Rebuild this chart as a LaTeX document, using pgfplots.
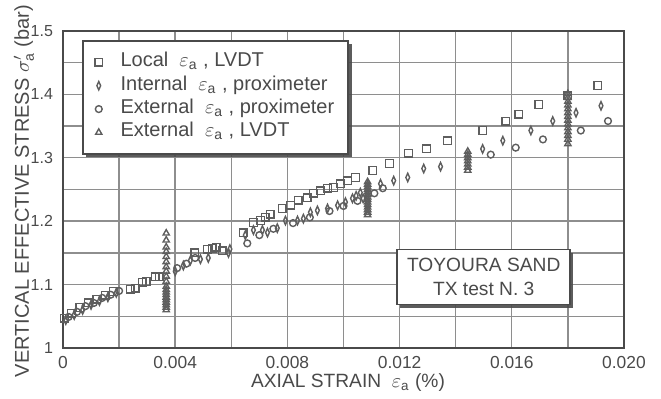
\documentclass[border=0pt]{standalone}
\usepackage{pgfplots}
\pgfplotsset{compat=1.18}
\usepackage{fontspec}
\setmainfont{Liberation Sans}
\usetikzlibrary{shadows}
\definecolor{ink}{HTML}{4A4A4A}
\definecolor{gridc}{HTML}{8E8E8E}
\definecolor{markc}{HTML}{5E5E5E}
\begin{document}
\begin{tikzpicture}
\begin{axis}[
  scale only axis, width=280.5pt, height=158.5pt,
  xmin=0, xmax=0.02, ymin=1, ymax=1.5,
  scaled x ticks=false, scaled y ticks=false,
  xtick={0,0.004,0.008,0.012,0.016,0.020},
  xticklabels={0,0.004,0.008,0.012,0.016,0.020},
  minor xtick={0.002,0.006,0.010,0.014,0.018},
  ytick={1,1.1,1.2,1.3,1.4,1.5},
  yticklabels={1,1.1,1.2,1.3,1.4,1.5},
  minor ytick={1.05,1.15,1.25,1.35,1.45},
  grid=both,
  major grid style={gridc, line width=0.7pt},
  minor grid style={gridc, line width=0.7pt},
  major tick length=0pt, minor tick length=0pt,
  axis line style={ink, line width=1.3pt},
  tick label style={text=ink},
  xticklabel style={font=\fontsize{8.7}{10}\selectfont, anchor=center, yshift=-7.3pt},
  yticklabel style={font=\fontsize{8}{10}\selectfont, anchor=east, xshift=-1.5pt},
  legend cell align=left,
  legend style={at={(rel axis cs:0.034,0.972)}, anchor=north west,
    draw=ink, line width=0.9pt, fill=white, text=ink,
    font=\fontsize{10}{11}\selectfont, inner xsep=6pt, inner ysep=5pt,
    row sep=0.2pt, column sep=8pt,
    nodes={inner sep=1pt, text height=7pt, text depth=2.5pt},
    drop shadow={shadow xshift=1.6pt, shadow yshift=-1.6pt, fill=ink, opacity=0.9}},
]
% Local epsilon_a, LVDT (squares)
\addplot[only marks, mark=square, mark size=1.9pt, mark options={draw=markc, line width=0.7pt, fill=none}] coordinates {
(0.00005,1.047) (0.0003,1.055) (0.0006,1.064) (0.0009,1.071) (0.0012,1.077) (0.0015,1.083) (0.0018,1.089)
(0.00239,1.093) (0.00257,1.094) (0.00282,1.104) (0.00296,1.105) (0.00329,1.112) (0.00343,1.112)
(0.0047,1.150) (0.00514,1.156) (0.00532,1.157) (0.00546,1.159) (0.00568,1.153)
(0.00643,1.182) (0.00679,1.198) (0.00704,1.201) (0.00721,1.206) (0.00739,1.211)
(0.00782,1.220) (0.00811,1.225) (0.00839,1.233) (0.00871,1.237) (0.00893,1.244) (0.00918,1.248)
(0.00943,1.252) (0.00964,1.253) (0.00989,1.259) (0.01014,1.264) (0.01043,1.269) (0.01104,1.280)
(0.01164,1.291) (0.01232,1.307) (0.01296,1.314) (0.01371,1.327) (0.01496,1.343) (0.01579,1.358)
(0.01625,1.369) (0.01696,1.384) (0.01800,1.398) (0.01907,1.414)
};
\addlegendentry{Local \ \(\varepsilon_{\mathrm a}\) , LVDT}
% Internal epsilon_a, proximeter (diamonds)
\addplot[only marks, mark=diamond, mark size=2.1pt, mark options={xscale=0.6, draw=markc, line width=0.7pt, fill=none}] coordinates {
(0.0001,1.044) (0.0004,1.052) (0.0007,1.060) (0.0010,1.068) (0.0013,1.074) (0.0016,1.080) (0.0019,1.087)
(0.00400,1.121) (0.00429,1.130) (0.00454,1.138) (0.00490,1.140) (0.00518,1.142) (0.00590,1.150) (0.00595,1.156)
(0.00650,1.178) (0.00679,1.186) (0.00711,1.186) (0.00729,1.182) (0.00764,1.189) (0.00793,1.201)
(0.00836,1.201) (0.00857,1.204) (0.00882,1.214) (0.00907,1.217) (0.00943,1.220) (0.00979,1.225)
(0.01007,1.230) (0.01032,1.236) (0.01045,1.240) (0.01060,1.245) (0.01070,1.236)
(0.01132,1.259) (0.01179,1.264) (0.01229,1.269) (0.01286,1.283) (0.01346,1.286)
(0.01496,1.314) (0.01568,1.327) (0.01668,1.343) (0.01746,1.358) (0.01829,1.371) (0.01918,1.382)
};
\addlegendentry{Internal \ \(\varepsilon_{\mathrm a}\) , proximeter}
% External epsilon_a, proximeter (circles)
\addplot[only marks, mark=o, mark size=1.7pt, mark options={draw=markc, line width=0.7pt, fill=none}] coordinates {
(0.0002,1.049) (0.0005,1.057) (0.0008,1.066) (0.0011,1.071) (0.0014,1.079) (0.0017,1.084) (0.0020,1.090)
(0.00407,1.126) (0.00440,1.133) (0.00471,1.142) (0.00657,1.165) (0.00700,1.178) (0.00750,1.188)
(0.00820,1.197) (0.00880,1.206) (0.00950,1.216) (0.01000,1.224) (0.01050,1.232) (0.01110,1.244) (0.01140,1.252)
(0.01525,1.305) (0.01614,1.316) (0.01711,1.329) (0.01846,1.343) (0.01943,1.358)
};
\addlegendentry{External \ \(\varepsilon_{\mathrm a}\) , proximeter}
% External epsilon_a, LVDT (triangles)
\addplot[only marks, mark=triangle, mark size=1.8pt, mark options={draw=markc, line width=0.7pt, fill=none}] coordinates {
(0.00368,1.181) (0.00368,1.170) (0.00368,1.159) (0.00368,1.152) (0.00368,1.144) (0.00368,1.136)
(0.00368,1.128) (0.00368,1.121) (0.00368,1.113) (0.00368,1.105) (0.00368,1.097) (0.00368,1.092)
(0.00368,1.088) (0.00368,1.084) (0.00368,1.080) (0.00368,1.076) (0.00368,1.072) (0.00368,1.068)
(0.00368,1.064) (0.00368,1.060)
(0.01086,1.262) (0.01086,1.258) (0.01086,1.254) (0.01086,1.250) (0.01086,1.246) (0.01086,1.242)
(0.01086,1.238) (0.01086,1.234) (0.01086,1.230) (0.01086,1.226) (0.01086,1.222) (0.01086,1.218)
(0.01086,1.214) (0.01086,1.210)
(0.01443,1.310) (0.01443,1.305) (0.01443,1.300) (0.01443,1.295) (0.01443,1.290) (0.01443,1.285) (0.01443,1.280)
(0.0180,1.401) (0.0180,1.395) (0.0180,1.389) (0.0180,1.383) (0.0180,1.377) (0.0180,1.371) (0.0180,1.365)
(0.0180,1.359) (0.0180,1.353) (0.0180,1.347) (0.0180,1.341) (0.0180,1.335) (0.0180,1.329) (0.0180,1.322)
};
\addlegendentry{External \ \(\varepsilon_{\mathrm a}\) , LVDT}
\node[draw=ink, line width=0.8pt, fill=white, text=ink, align=center,
  minimum width=86.5pt, minimum height=27.5pt, inner sep=2pt,
  font=\fontsize{9.6}{12}\selectfont,
  drop shadow={shadow xshift=1.6pt, shadow yshift=-1.6pt, fill=ink, opacity=0.9}]
  at (axis cs:0.0150,1.112) {TOYOURA SAND\\TX test N. 3};
\coordinate (O) at (rel axis cs:0,0);
\end{axis}
\path (O) ++(-19.5pt,78.5pt) node[rotate=90, text=ink, font=\fontsize{10}{11}\selectfont]
  {VERTICAL EFFECTIVE STRESS \(\sigma'_{\mathrm a}\) (bar)};
\path (O) ++(142.5pt,-17.3pt) node[text=ink, font=\fontsize{9.6}{11}\selectfont, inner sep=1pt]
  {AXIAL STRAIN \ \(\varepsilon_{\mathrm a}\) (\%)};
\pgfresetboundingbox
\path[use as bounding box] (O) ++(-31.5pt,-25.5pt) rectangle ++(330.5pt,199.5pt);
\end{tikzpicture}
\end{document}
